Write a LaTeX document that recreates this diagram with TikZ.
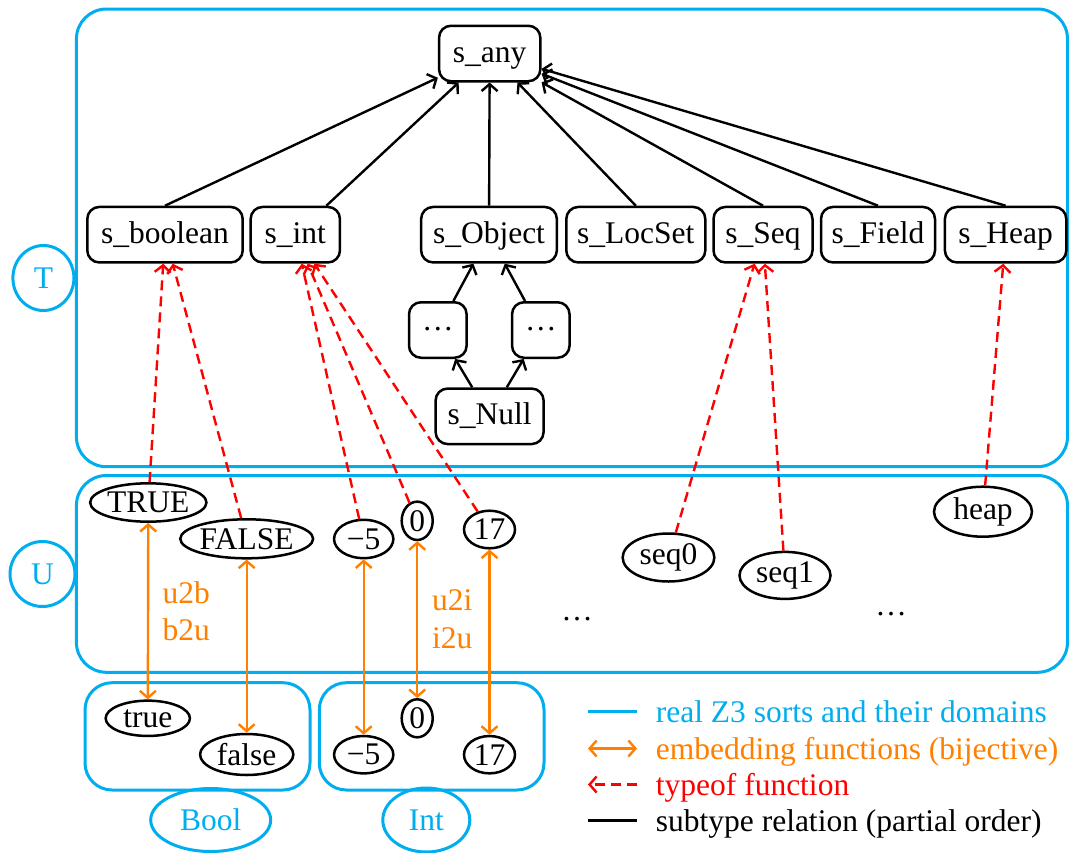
\documentclass[tikz,border=0pt]{standalone}
\usepackage{fontspec}
\setmainfont{Liberation Serif}
\usetikzlibrary{shapes.geometric,arrows.meta}
\definecolor{zblue}{RGB}{0,174,239}
\definecolor{zorange}{RGB}{255,128,0}
\definecolor{zred}{RGB}{255,0,0}
\begin{document}
\begin{tikzpicture}[x=1pt,y=-1pt,
  font=\fontsize{31.5}{38}\selectfont,
  tip/.tip={Straight Barb[length=7pt,width=16pt,line width=2.4pt]},
  sortbox/.style={draw=zblue,line width=3pt,rounded corners=#1,inner sep=0pt},
  sortbox/.default=30pt,
  tbox/.style={draw,line width=2.5pt,rounded corners=12pt,minimum height=55.5pt,inner sep=0pt,text height=23pt,text depth=6pt},
  val/.style={draw,ellipse,line width=2.5pt,inner sep=0pt},
  sub/.style={line width=2.4pt,-tip},
  typeof/.style={draw=zred,line width=2.4pt,dash pattern=on 10pt off 6pt,-tip},
  emb/.style={draw=zorange,line width=2.4pt,tip-tip},
  lab/.style={ellipse,draw=zblue,line width=3pt,text=zblue,inner sep=0pt},
  orlab/.style={anchor=base west,text=zorange,inner sep=0pt},
  legtext/.style={anchor=base west,inner sep=0pt},
]
\useasboundingbox (0,0) rectangle (1069,852);

% containers
\node[sortbox,minimum width=991.1pt,minimum height=457.7pt] (Tbox) at (571.95,237.85) {};
\node[sortbox,minimum width=991.1pt,minimum height=196.8pt] (Ubox) at (571.95,573.9) {};
\node[sortbox=27pt,minimum width=225pt,minimum height=107.3pt] (Boolbox) at (197.5,736.35) {};
\node[sortbox=27pt,minimum width=224.7pt,minimum height=107.3pt] (Intbox) at (431.65,736.35) {};

% sort labels
\node[lab,minimum width=61pt,minimum height=65pt] (T) at (43.4,278) {T};
\node[lab,minimum width=65pt,minimum height=65pt] (U) at (42.5,574) {U};
\node[lab,minimum width=120pt,minimum height=63pt] (Bool) at (210.7,820) {Bool};
\node[lab,minimum width=87pt,minimum height=64pt] (Int) at (426.3,820) {Int};

% type nodes
\node[tbox,minimum width=101.3pt] (s_any) at (489.7,53.5) {s\_any};
\node[tbox,minimum width=155.4pt] (s_boolean) at (165,234.7) {s\_boolean};
\node[tbox,minimum width=89.3pt] (s_int) at (295.3,234.7) {s\_int};
\node[tbox,minimum width=135.7pt] (s_Object) at (489,234.7) {s\_Object};
\node[tbox,minimum width=139pt] (s_LocSet) at (635.8,234.7) {s\_LocSet};
\node[tbox,minimum width=99pt] (s_Seq) at (763,234.7) {s\_Seq};
\node[tbox,minimum width=114pt] (s_Field) at (878,234.7) {s\_Field};
\node[tbox,minimum width=121.4pt] (s_Heap) at (1005.6,234.7) {s\_Heap};
\node[tbox,minimum width=57.6pt] (dots1) at (437.8,330) {\raisebox{8pt}{\ldots}};
\node[tbox,minimum width=57.5pt] (dots2) at (540.8,330) {\raisebox{8pt}{\ldots}};
\node[tbox,minimum width=108pt] (s_Null) at (489.6,416.3) {s\_Null};

% universe values
\node[val,minimum width=116pt,minimum height=38.4pt] (TRUE) at (148.3,502.5) {TRUE};
\node[val,minimum width=130pt,minimum height=39pt] (FALSE) at (246.7,538.8) {FALSE};
\node[val,minimum width=59.3pt,minimum height=38.3pt] (um5) at (363.7,539) {−5};
\node[val,minimum width=31pt,minimum height=38.3pt] (uzero) at (417.2,520.8) {0};
\node[val,minimum width=51pt,minimum height=37.6pt] (u17) at (489.5,529.5) {17};
\node[val,minimum width=91.7pt,minimum height=48pt] (seq0) at (668.5,557.5) {seq0};
\node[val,minimum width=91pt,minimum height=47pt] (seq1) at (785,575.4) {seq1};
\node[val,minimum width=98pt,minimum height=50pt] (heap) at (983,511.7) {heap};
\node[anchor=base,inner sep=0pt] (udots1) at (577,620) {\ldots};
\node[anchor=base,inner sep=0pt] (udots2) at (891,615) {\ldots};

% Bool / Int values
\node[val,minimum width=84.3pt,minimum height=35.3pt] (btrue) at (147.8,718.3) {true};
\node[val,minimum width=93.3pt,minimum height=41pt] (bfalse) at (246.7,754.5) {false};
\node[val,minimum width=31pt,minimum height=38pt] (izero) at (417.2,718.3) {0};
\node[val,minimum width=59.3pt,minimum height=37.3pt] (im5) at (363.7,754.7) {−5};
\node[val,minimum width=51pt,minimum height=37.3pt] (i17) at (489.5,754.7) {17};

% subtype relation
\draw[sub] (s_boolean.north) -- (s_any);
\draw[sub] (s_int) -- (s_any);
\draw[sub] (s_Object) -- (s_any);
\draw[sub] (s_LocSet.north) -- (s_any);
\draw[sub] (s_Seq.north) -- (s_any);
\draw[sub] (s_Field.north) -- (s_any);
\draw[sub] (s_Heap.north) -- (s_any);
\draw[sub] (dots1) -- (s_Object);
\draw[sub] (dots2) -- (s_Object);
\draw[sub] (s_Null) -- (dots1);
\draw[sub] (s_Null) -- (dots2);

% typeof
\draw[typeof] (TRUE) -- (s_boolean);
\draw[typeof] (FALSE) -- (s_boolean);
\draw[typeof] (um5) -- (s_int);
\draw[typeof] (uzero) -- (s_int);
\draw[typeof] (u17) -- (s_int);
\draw[typeof] (seq0) -- (s_Seq);
\draw[typeof] (seq1) -- (s_Seq);
\draw[typeof] (heap) -- (s_Heap);

% embeddings
\draw[emb] (TRUE) -- (btrue);
\draw[emb] (FALSE) -- (bfalse);
\draw[emb] (um5) -- (im5);
\draw[emb] (uzero) -- (izero);
\draw[emb] (u17) -- (i17);
\node[orlab] (u2b) at (162.5,603) {u2b};
\node[orlab] (b2u) at (162.5,640) {b2u};
\node[orlab] (u2i) at (432,610.5) {u2i};
\node[orlab] (i2u) at (432,648) {i2u};

% legend
\coordinate (la1) at (588,711.3); \coordinate (lb1) at (637,711.3);
\coordinate (la2) at (588,748.5); \coordinate (lb2) at (637,748.5);
\coordinate (la3) at (588,784.5); \coordinate (lb3) at (637,784.5);
\coordinate (la4) at (588,820.3); \coordinate (lb4) at (637,820.3);
\draw[draw=zblue,line width=3pt] (la1) -- (lb1);
\draw[emb] (la2) -- (lb2);
\draw[typeof] (lb3) -- (la3);
\draw[line width=2.4pt] (la4) -- (lb4);
\node[legtext,text=zblue] (lt1) at (655.7,722.5) {real Z3 sorts and their domains};
\node[legtext,text=zorange] (lt2) at (655.7,759.7) {embedding functions (bijective)};
\node[legtext,text=zred] (lt3) at (655.7,795.7) {typeof function};
\node[legtext] (lt4) at (655.7,831.5) {subtype relation (partial order)};
\end{tikzpicture}
\end{document}
